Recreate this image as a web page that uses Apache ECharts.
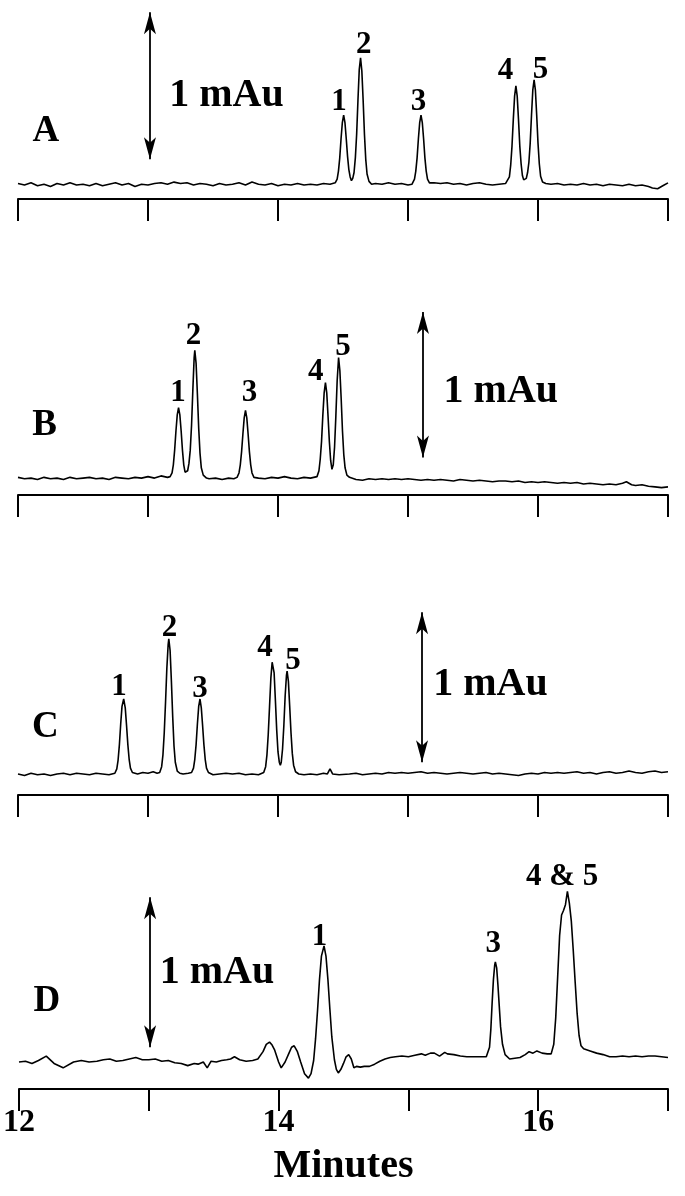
<!DOCTYPE html>
<html><head><meta charset="utf-8">
<script src="https://cdn.jsdelivr.net/npm/echarts@6/dist/echarts.min.js"></script>
<style>html,body{margin:0;padding:0;background:#fff}#c{width:685px;height:1196px}</style>
</head><body><div id="c"></div>
<script>
// ---------- data (minutes, mAu above baseline) ----------
const xTickLabels = {12:'12', 14:'14', 16:'16'};
const xAxisTitle = 'Minutes';
const panelNames = ['A','B','C','D'];
const unitText = '1 mAu';

const traceA = [
[12.00,0.005],[12.05,-0.005],[12.10,0.01],[12.15,-0.01],[12.20,0.0],[12.25,-0.015],[12.30,0.005],[12.35,-0.005],[12.40,0.01],[12.45,-0.005],
[12.50,0.0],[12.55,-0.01],[12.60,0.005],[12.65,-0.01],[12.70,0.0],[12.75,0.01],[12.80,-0.005],[12.85,0.005],[12.90,-0.015],[12.95,0.0],
[13.00,-0.005],[13.05,0.005],[13.10,0.01],[13.15,0.0],[13.20,0.015],[13.25,0.005],[13.30,0.01],[13.35,-0.005],[13.40,0.005],[13.45,0.0],
[13.50,-0.01],[13.55,0.005],[13.60,-0.005],[13.65,0.0],[13.70,0.01],[13.75,-0.005],[13.80,0.015],[13.85,0.0],[13.90,-0.005],[13.95,0.005],
[14.00,-0.01],[14.05,0.0],[14.10,-0.005],[14.15,0.005],[14.20,-0.005],[14.25,0.0],[14.30,-0.005],[14.35,0.005],[14.40,0.0],
[14.44,0.01],[14.455,0.035],[14.465,0.09],[14.475,0.18],[14.485,0.31],[14.495,0.42],[14.505,0.47],[14.515,0.42],[14.525,0.31],[14.535,0.19],[14.545,0.10],[14.555,0.05],[14.565,0.025],
[14.575,0.04],[14.585,0.08],[14.595,0.18],[14.605,0.34],[14.615,0.57],[14.625,0.78],[14.635,0.86],[14.645,0.77],[14.655,0.57],[14.665,0.34],[14.675,0.17],[14.685,0.07],[14.70,0.02],[14.72,0.0],
[14.75,0.005],[14.80,0.0],[14.85,0.01],[14.90,0.0],[14.95,0.005],[15.00,-0.005],[15.03,0.0],
[15.05,0.035],[15.06,0.09],[15.07,0.18],[15.08,0.31],[15.09,0.42],[15.10,0.47],[15.11,0.42],[15.12,0.31],[15.13,0.18],[15.14,0.09],[15.15,0.035],[15.165,0.01],
[15.20,0.01],[15.25,0.005],[15.30,0.01],[15.35,0.0],[15.40,0.005],[15.45,-0.005],[15.50,0.005],[15.55,0.01],[15.60,0.0],[15.65,-0.005],[15.70,0.0],[15.75,0.005],
[15.765,0.01],[15.78,0.05],[15.79,0.13],[15.80,0.26],[15.81,0.44],[15.82,0.60],[15.83,0.67],[15.84,0.60],[15.85,0.44],[15.86,0.26],[15.87,0.14],[15.88,0.06],[15.89,0.03],[15.90,0.025],
[15.91,0.04],[15.92,0.08],[15.93,0.15],[15.94,0.28],[15.95,0.47],[15.96,0.64],[15.97,0.71],[15.98,0.64],[15.99,0.47],[16.00,0.28],[16.01,0.14],[16.02,0.055],[16.035,0.015],
[16.06,0.005],[16.10,0.0],[16.15,0.005],[16.20,-0.005],[16.25,0.0],[16.30,-0.005],[16.35,0.005],[16.40,-0.005],[16.45,0.0],[16.50,-0.01],
[16.55,0.0],[16.60,-0.005],[16.65,-0.01],[16.70,0.0],[16.75,-0.01],[16.80,-0.005],[16.85,-0.015],[16.88,-0.025],[16.92,-0.03],[16.96,-0.01],[17.00,0.01]
];

const traceB = [
[12.00,0.005],[12.05,-0.005],[12.10,0.0],[12.15,-0.01],[12.20,0.005],[12.25,-0.005],[12.30,0.0],[12.35,-0.01],[12.40,0.005],[12.45,-0.005],
[12.50,0.0],[12.55,0.005],[12.60,-0.005],[12.65,0.0],[12.70,-0.01],[12.75,0.005],[12.80,0.0],[12.85,-0.005],[12.90,0.005],[12.95,0.0],
[13.00,0.01],[13.05,0.0],[13.10,0.015],[13.15,0.005],
[13.17,0.01],[13.185,0.035],[13.195,0.09],[13.205,0.19],[13.215,0.32],[13.225,0.43],[13.235,0.48],[13.245,0.43],[13.255,0.32],[13.265,0.19],[13.275,0.09],[13.285,0.04],[13.295,0.03],
[13.305,0.05],[13.315,0.10],[13.325,0.19],[13.335,0.36],[13.345,0.60],[13.355,0.82],[13.36,0.87],[13.37,0.78],[13.38,0.57],[13.39,0.34],[13.40,0.17],[13.41,0.07],[13.425,0.02],[13.45,0.0],
[13.47,-0.005],[13.52,0.0],[13.57,-0.01],[13.62,0.0],[13.66,-0.005],
[13.685,0.005],[13.70,0.035],[13.71,0.09],[13.72,0.18],[13.73,0.30],[13.74,0.41],[13.75,0.46],[13.76,0.41],[13.77,0.30],[13.78,0.18],[13.79,0.09],[13.80,0.035],[13.815,0.005],
[13.85,0.0],[13.90,-0.005],[13.95,0.005],[14.00,0.0],[14.05,0.01],[14.10,0.0],[14.15,-0.005],[14.20,0.005],[14.25,0.0],
[14.30,0.01],[14.315,0.05],[14.325,0.13],[14.335,0.25],[14.345,0.43],[14.355,0.58],[14.365,0.65],[14.375,0.58],[14.385,0.42],[14.395,0.25],[14.405,0.12],[14.415,0.06],
[14.425,0.09],[14.435,0.21],[14.445,0.42],[14.455,0.66],[14.466,0.82],[14.476,0.73],[14.486,0.54],[14.496,0.32],[14.506,0.16],[14.516,0.07],[14.53,0.02],[14.55,0.005],
[14.60,-0.01],[14.65,-0.015],[14.70,-0.005],[14.75,-0.01],[14.80,-0.005],[14.85,-0.01],[14.90,-0.005],[14.95,-0.01],[15.00,-0.005],[15.05,-0.01],
[15.10,-0.015],[15.15,-0.01],[15.20,-0.015],[15.25,-0.01],[15.30,-0.015],[15.35,-0.02],[15.40,-0.01],[15.45,-0.015],[15.50,-0.02],[15.55,-0.015],
[15.60,-0.02],[15.65,-0.025],[15.70,-0.02],[15.75,-0.02],[15.80,-0.025],[15.85,-0.02],[15.90,-0.03],[15.95,-0.025],[16.00,-0.03],[16.05,-0.025],
[16.10,-0.03],[16.15,-0.035],[16.20,-0.03],[16.25,-0.035],[16.30,-0.03],[16.35,-0.04],[16.40,-0.035],[16.45,-0.04],[16.50,-0.045],[16.55,-0.04],
[16.60,-0.045],[16.65,-0.035],[16.68,-0.025],[16.72,-0.045],[16.75,-0.05],[16.80,-0.045],[16.85,-0.055],[16.90,-0.06],[16.95,-0.065],[17.00,-0.06]
];

const traceC = [
[12.00,0.0],[12.05,-0.01],[12.10,0.005],[12.15,-0.005],[12.20,0.0],[12.25,-0.01],[12.30,0.0],[12.35,0.005],[12.40,-0.005],[12.45,0.005],
[12.50,0.0],[12.55,-0.005],[12.60,0.005],[12.65,0.0],[12.70,-0.005],
[12.745,0.005],[12.76,0.035],[12.77,0.095],[12.78,0.20],[12.79,0.34],[12.80,0.46],[12.813,0.51],[12.825,0.45],[12.835,0.33],[12.845,0.20],[12.855,0.10],[12.865,0.04],[12.88,0.01],
[12.92,0.0],[12.96,0.01],[13.00,0.005],[13.04,0.015],[13.07,0.005],
[13.09,0.01],[13.105,0.05],[13.115,0.13],[13.125,0.28],[13.135,0.49],[13.145,0.72],[13.155,0.88],[13.16,0.92],[13.17,0.84],[13.18,0.63],[13.19,0.39],[13.20,0.19],[13.21,0.08],[13.225,0.02],[13.245,0.005],
[13.27,0.0],[13.31,0.005],
[13.335,0.01],[13.35,0.04],[13.36,0.10],[13.37,0.20],[13.38,0.34],[13.39,0.46],[13.40,0.51],[13.41,0.45],[13.42,0.33],[13.43,0.20],[13.44,0.10],[13.45,0.04],[13.465,0.01],
[13.50,-0.005],[13.55,0.0],[13.60,0.005],[13.65,0.0],[13.70,0.005],[13.75,-0.005],[13.80,0.0],[13.85,-0.005],
[13.89,0.01],[13.905,0.05],[13.915,0.13],[13.925,0.27],[13.935,0.46],[13.945,0.65],[13.955,0.76],[13.96,0.77],[13.97,0.69],[13.98,0.50],[13.99,0.30],[14.00,0.15],[14.01,0.08],[14.018,0.06],
[14.025,0.08],[14.035,0.17],[14.045,0.33],[14.055,0.53],[14.065,0.67],[14.07,0.70],[14.08,0.63],[14.09,0.46],[14.10,0.28],[14.11,0.14],[14.12,0.06],[14.135,0.015],[14.16,0.0],
[14.20,-0.005],[14.25,0.0],[14.30,-0.005],[14.35,0.005],[14.38,0.0],[14.40,0.035],[14.42,0.0],[14.47,-0.005],[14.55,0.0],[14.60,0.005],
[14.65,-0.005],[14.70,0.0],[14.75,0.005],[14.80,0.0],[14.85,0.01],[14.90,0.005],[14.95,0.01],[15.00,0.005],[15.05,0.01],[15.10,0.015],
[15.15,0.005],[15.20,0.01],[15.25,0.005],[15.30,0.0],[15.35,0.005],[15.40,0.01],[15.45,0.005],[15.50,0.0],[15.55,0.005],[15.60,0.01],
[15.65,0.0],[15.70,0.005],[15.75,0.0],[15.80,-0.005],[15.85,-0.01],[15.90,0.0],[15.95,0.005],[16.00,0.0],[16.05,0.01],[16.10,0.005],
[16.15,0.01],[16.20,0.005],[16.25,0.01],[16.30,0.015],[16.35,0.005],[16.40,0.01],[16.45,0.0],[16.50,0.01],[16.55,0.015],[16.60,0.005],
[16.65,0.01],[16.70,0.02],[16.75,0.01],[16.80,0.005],[16.85,0.015],[16.90,0.02],[16.95,0.01],[17.00,0.015]
];

const traceD = [
[12.00,0.0],[12.05,0.005],[12.10,-0.01],[12.15,0.01],[12.21,0.04],[12.27,-0.01],[12.34,-0.04],[12.42,0.0],[12.48,0.01],[12.54,0.0],
[12.60,0.005],[12.65,0.015],[12.70,0.02],[12.75,0.005],[12.80,0.01],[12.85,0.02],[12.90,0.03],[12.95,0.015],[13.00,0.015],[13.05,0.02],
[13.10,0.005],[13.15,0.01],[13.20,-0.005],[13.25,-0.01],[13.30,-0.025],[13.35,-0.01],[13.38,-0.015],[13.42,0.0],[13.45,-0.04],[13.48,0.005],
[13.52,0.0],[13.56,0.01],[13.60,0.015],[13.63,0.02],[13.66,0.035],[13.70,0.015],[13.75,0.005],[13.80,0.01],[13.84,0.02],
[13.88,0.07],[13.905,0.12],[13.93,0.135],[13.95,0.115],[13.97,0.08],[14.00,0.0],[14.02,-0.04],[14.05,0.0],[14.08,0.06],[14.10,0.10],
[14.12,0.11],[14.145,0.07],[14.17,0.0],[14.20,-0.08],[14.23,-0.11],[14.25,-0.08],[14.27,0.01],[14.285,0.16],[14.30,0.35],[14.315,0.56],
[14.33,0.72],[14.35,0.79],[14.365,0.72],[14.38,0.56],[14.395,0.36],[14.41,0.17],[14.43,0.015],[14.445,-0.05],[14.46,-0.075],[14.48,-0.05],
[14.50,-0.01],[14.52,0.035],[14.54,0.05],[14.56,0.02],[14.58,-0.04],[14.60,-0.03],[14.63,-0.035],[14.66,-0.03],[14.70,-0.03],[14.74,-0.015],
[14.78,0.005],[14.82,0.02],[14.86,0.03],[14.90,0.035],[14.95,0.04],[15.00,0.035],[15.05,0.045],[15.10,0.055],[15.13,0.045],[15.17,0.06],
[15.20,0.06],[15.24,0.04],[15.28,0.065],[15.30,0.055],[15.35,0.05],[15.40,0.04],[15.45,0.035],[15.50,0.035],[15.55,0.035],[15.60,0.035],
[15.625,0.10],[15.635,0.22],[15.645,0.40],[15.655,0.56],[15.665,0.66],[15.67,0.68],[15.68,0.64],[15.69,0.52],[15.70,0.38],[15.71,0.24],
[15.725,0.12],[15.745,0.05],[15.78,0.02],[15.82,0.025],[15.86,0.03],[15.90,0.05],[15.93,0.07],[15.96,0.06],[15.99,0.075],[16.03,0.06],
[16.07,0.055],[16.10,0.055],[16.12,0.12],[16.135,0.30],[16.15,0.58],[16.165,0.86],[16.18,1.00],[16.195,1.03],[16.21,1.07],[16.225,1.16],
[16.24,1.08],[16.255,0.96],[16.27,0.76],[16.285,0.54],[16.30,0.33],[16.315,0.18],[16.33,0.11],[16.35,0.09],[16.40,0.075],[16.45,0.06],
[16.50,0.05],[16.55,0.035],[16.60,0.035],[16.65,0.04],[16.70,0.035],[16.75,0.04],[16.80,0.035],[16.85,0.04],[16.90,0.04],[16.95,0.035],[17.00,0.03]
];

// peak number labels [text, minutes, mAu]
const peakLabelsA = [['1',14.47,0.56],['2',14.66,0.95],['3',15.08,0.56],['4',15.75,0.77],['5',16.02,0.78]];
const peakLabelsB = [['1',13.23,0.58],['2',13.35,0.97],['3',13.78,0.58],['4',14.29,0.72],['5',14.50,0.89]];
const peakLabelsC = [['1',12.777,0.59],['2',13.165,0.99],['3',13.40,0.58],['4',13.90,0.86],['5',14.115,0.77]];
const peakLabelsD = [['1',14.315,0.85],['3',15.654,0.80],['4 & 5',16.185,1.26]];

// 1 mAu scale bars: [minutes, bottom mAu, top mAu]
const scaleBarA = [13.015, 0.17, 1.17];
const scaleBarB = [15.115, 0.14, 1.13];
const scaleBarC = [15.108, 0.08, 1.10];
const scaleBarD = [13.01, 0.10, 1.12];
// "1 mAu" text anchors [minutes, mAu] (left edge, middle)
const unitPosA = [13.16, 0.60];
const unitPosB = [15.27, 0.585];
const unitPosC = [15.19, 0.605];
const unitPosD = [13.08, 0.605];
// panel letter anchors [minutes, mAu]
const letterPos = [[12.215,0.36],[12.205,0.36],[12.21,0.32],[12.215,0.415]];

// ---------- layout ----------
const PX_PER_MAU = 147;
const FONT = '"Liberation Serif","Times New Roman",serif';
const layout = [
  {top:5,   height:194, ymin:-0.10},
  {top:301, height:194, ymin:-0.115},
  {top:601, height:194, ymin:-0.143},
  {top:870, height:219, ymin:-0.184}
];
const traces = [traceA, traceB, traceC, traceD];
const peakLabels = [peakLabelsA, peakLabelsB, peakLabelsC, peakLabelsD];
const bars = [scaleBarA, scaleBarB, scaleBarC, scaleBarD];
const units = [unitPosA, unitPosB, unitPosC, unitPosD];

const grid = [], xAxis = [], yAxis = [], series = [];
const labelItem = {color:'rgba(0,0,0,0)', opacity:1};
layout.forEach((L, i) => {
  grid.push({left:18, right:17, top:L.top, height:L.height, containLabel:false});
  xAxis.push({
    type:'value', gridIndex:i, min:12, max:17, interval:1,
    axisLine:{show:true, onZero:false, lineStyle:{color:'#000', width:2}},
    axisTick:{show:true, inside:false, length:22, lineStyle:{color:'#000', width:2}},
    splitLine:{show:false},
    axisLabel:{show:i===3, margin:18, color:'#000', fontFamily:FONT, fontWeight:'bold', fontSize:32,
      formatter:(v)=>xTickLabels[v]||''},
    name: i===3 ? xAxisTitle : '', nameLocation:'middle', nameGap:58,
    nameTextStyle:{color:'#000', fontFamily:FONT, fontWeight:'bold', fontSize:40}
  });
  yAxis.push({type:'value', gridIndex:i, show:false, min:L.ymin, max:L.ymin + L.height/PX_PER_MAU,
    splitLine:{show:false}});
  const b = bars[i];
  series.push({
    type:'line', xAxisIndex:i, yAxisIndex:i, data:traces[i], showSymbol:false, symbol:'none',
    lineStyle:{color:'#000', width:1.6}, silent:true, animation:false,
    markLine:{silent:true, animation:false, symbol:['arrow','arrow'], symbolSize:[9,22],
      itemStyle:{color:'#000'},
      lineStyle:{color:'#000', width:1.8, type:'solid', opacity:1}, label:{show:false},
      data:[[{coord:[b[0], b[1]]},{coord:[b[0], b[2]]}]]}
  });
  series.push({
    type:'scatter', xAxisIndex:i, yAxisIndex:i, symbolSize:1, silent:true, animation:false,
    itemStyle:labelItem,
    data:peakLabels[i].map(p=>({name:p[0], value:[p[1],p[2]]})),
    label:{show:true, position:'inside', formatter:'{b}', color:'#000', opacity:1, fontFamily:FONT, fontWeight:'bold', fontSize:31}
  });
  series.push({
    type:'scatter', xAxisIndex:i, yAxisIndex:i, symbolSize:1, silent:true, animation:false,
    itemStyle:labelItem,
    data:[{name:unitText, value:units[i]}],
    label:{show:true, position:'right', distance:0, formatter:'{b}', color:'#000', opacity:1, fontFamily:FONT, fontWeight:'bold', fontSize:40}
  });
  series.push({
    type:'scatter', xAxisIndex:i, yAxisIndex:i, symbolSize:1, silent:true, animation:false,
    itemStyle:labelItem,
    data:[{name:panelNames[i], value:letterPos[i]}],
    label:{show:true, position:'inside', formatter:'{b}', color:'#000', opacity:1, fontFamily:FONT, fontWeight:'bold', fontSize:37}
  });
});

const chart = echarts.init(document.getElementById('c'), null, {renderer:'canvas'});
chart.setOption({backgroundColor:'#fff', animation:false, grid, xAxis, yAxis, series});
</script></body></html>
